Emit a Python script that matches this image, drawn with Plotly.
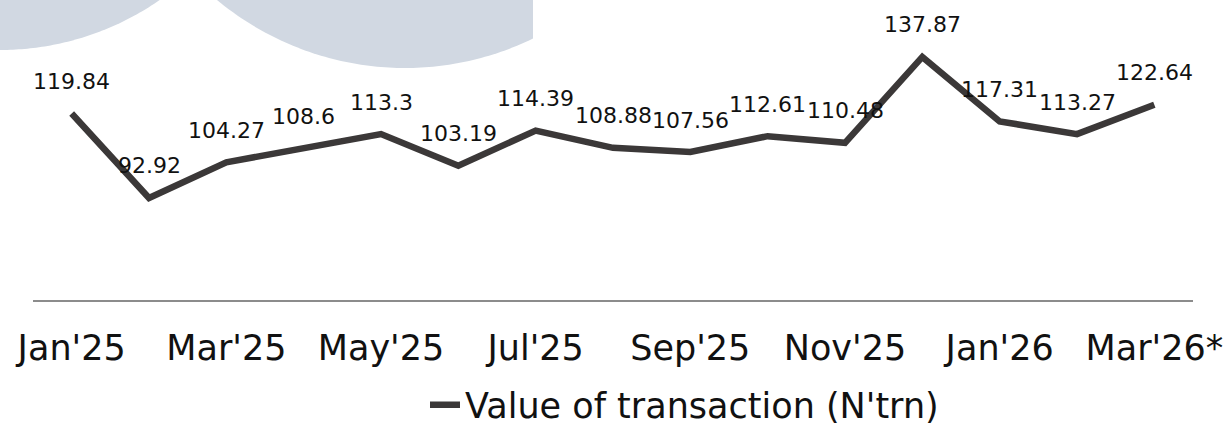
import numpy as np
import plotly.graph_objects as go

months = ["Jan'25", "Feb'25", "Mar'25", "Apr'25", "May'25", "Jun'25", "Jul'25", "Aug'25",
          "Sep'25", "Oct'25", "Nov'25", "Dec'25", "Jan'26", "Feb'26", "Mar'26*"]
values = [119.84, 92.92, 104.27, 108.6, 113.3, 103.19, 114.39, 108.88,
          107.56, 112.61, 110.48, 137.87, 117.31, 113.27, 122.64]
tick_labels = months[::2]
series_name = "Value of transaction (N'trn)"

W, H = 1226, 425
L, R, T, B = 33, 33, 0, 125
PW, PH = W - L - R, H - T - B
FONT = "DejaVu Sans"


def px(x):
    return (x - L) / PW


def py(y):
    return 1 - (y - T) / PH


def blob_path(xs, ys, top=-20):
    pts = [f"{px(x):.5f},{py(y):.5f}" for x, y in zip(xs, ys)]
    path = "M" + " L".join(pts)
    path += f" L{px(xs[-1]):.5f},{py(top):.5f} L{px(xs[0]):.5f},{py(top):.5f} Z"
    return path


# decorative watermark blobs (background)
xl = np.linspace(-10, 160, 60)
yl = -230 + np.sqrt(np.clip(280 ** 2 - xl ** 2, 0, None))
xr = np.linspace(217, 533, 80)
yr = -240 + 308 * np.sqrt(np.clip(1 - ((xr - 405) / 300) ** 2, 0, None))

fig = go.Figure()
fig.add_trace(go.Scatter(
    x=months, y=values, mode="lines", name=series_name,
    line=dict(color="#3B3838", width=6.5),
    showlegend=True,
))

annotations = []
for m, v in zip(months, values):
    annotations.append(dict(
        x=m, y=v, xref="x", yref="y", text=f"{v:g}", showarrow=False,
        yshift=32, yanchor="middle", xanchor="center",
        font=dict(family=FONT, size=22, color="#111111"),
    ))

fig.update_layout(
    width=W, height=H,
    margin=dict(l=L, r=R, t=T, b=B, autoexpand=False),
    paper_bgcolor="white", plot_bgcolor="rgba(0,0,0,0)",
    font=dict(family=FONT, color="#111111"),
    shapes=[
        dict(type="path", xref="paper", yref="paper", path=blob_path(xl, yl),
             fillcolor="#D1D8E2", line=dict(width=0), layer="below"),
        dict(type="path", xref="paper", yref="paper", path=blob_path(xr, yr),
             fillcolor="#D1D8E2", line=dict(width=0), layer="below"),
    ],
    annotations=annotations,
    xaxis=dict(
        type="category", categoryorder="array", categoryarray=months,
        range=[-0.5, len(months) - 0.5],
        tickmode="array", tickvals=tick_labels, ticktext=tick_labels,
        tickangle=0, showgrid=False, zeroline=False,
        showline=True, linecolor="#8C8C8C", linewidth=2,
        ticks="", ticklabelstandoff=16, automargin=False,
        tickfont=dict(family=FONT, size=35, color="#111111"),
    ),
    yaxis=dict(range=[60.4, 156.0], visible=False, showgrid=False, zeroline=False),
    legend=dict(
        orientation="h", x=px(425), xanchor="left", y=py(405), yanchor="middle",
        font=dict(family=FONT, size=35, color="#111111"),
        bgcolor="rgba(0,0,0,0)",
    ),
)

fig.write_html(
    "out.html",
    config={"displayModeBar": False},
    post_script="document.body.style.margin='0';document.body.style.padding='0';",
)
